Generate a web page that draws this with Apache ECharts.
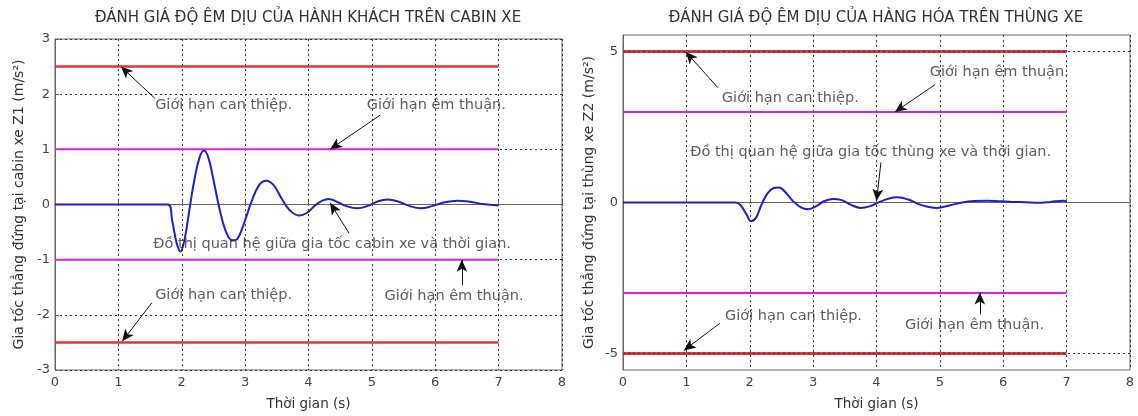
<!DOCTYPE html>
<html>
<head>
<meta charset="utf-8">
<script src="https://cdn.jsdelivr.net/npm/echarts@6/dist/echarts.min.js"></script>
<style>
  html, body { margin: 0; padding: 0; background: #fff; }
  #chart { width: 1138px; height: 416px; }
</style>
</head>
<body>
<div id="chart"></div>
<script>
// Time axis (s)
const timeTicks = [0, 1, 2, 3, 4, 5, 6, 7, 8];
const limitSpan = [0, 7];

// Passenger cabin: vertical acceleration Z1 (m/s^2) over time
const cabinCurve = [
  [0, 0], [1.78, 0], [1.85, -0.3], [1.92, -0.7], [1.98, -0.85], [2.05, -0.6],
  [2.12, -0.1], [2.2, 0.45], [2.28, 0.85], [2.35, 0.98], [2.42, 0.85], [2.5, 0.45],
  [2.6, -0.1], [2.7, -0.5], [2.8, -0.65], [2.88, -0.62], [2.98, -0.35], [3.1, 0.05],
  [3.22, 0.35], [3.33, 0.43], [3.45, 0.35], [3.58, 0.1], [3.7, -0.1], [3.85, -0.2],
  [3.98, -0.15], [4.1, -0.02], [4.22, 0.07], [4.32, 0.1], [4.45, 0.05], [4.6, -0.03],
  [4.77, -0.07], [4.95, -0.02], [5.1, 0.06], [5.25, 0.09], [5.4, 0.06], [5.6, -0.03],
  [5.77, -0.07], [5.95, -0.03], [6.15, 0.04], [6.35, 0.07], [6.55, 0.05], [6.75, 0.01],
  [7.0, -0.02]
];
const cabinTicks = [-3, -2, -1, 0, 1, 2, 3];
const cabinComfort = [1, -1];          // Giới hạn êm thuận
const cabinIntervention = [2.5, -2.5]; // Giới hạn can thiệp

// Cargo bed: vertical acceleration Z2 (m/s^2) over time
const cargoCurve = [
  [0, 0], [1.78, 0], [1.86, -0.1], [1.95, -0.4], [2.02, -0.62], [2.1, -0.5],
  [2.18, -0.1], [2.28, 0.3], [2.38, 0.48], [2.46, 0.5], [2.56, 0.35], [2.68, 0.05],
  [2.8, -0.15], [2.92, -0.22], [3.05, -0.12], [3.18, 0.05], [3.32, 0.12], [3.45, 0.08],
  [3.6, -0.08], [3.75, -0.18], [3.9, -0.12], [4.05, 0.02], [4.2, 0.13], [4.33, 0.17],
  [4.5, 0.1], [4.7, -0.08], [4.95, -0.18], [5.15, -0.1], [5.35, 0.0], [5.55, 0.05],
  [5.75, 0.06], [5.95, 0.04], [6.15, 0.02], [6.35, 0.01], [6.55, -0.01], [6.75, 0.02],
  [6.95, 0.06], [7.0, 0.05]
];
const cargoTicks = [-5, 0, 5];
const cargoComfort = [3, -3];
const cargoIntervention = [5, -5];

// Annotation texts (anchored at their left edge) and arrows [tail, head]
const cabinNotes = [
  ['Giới hạn can thiệp.', [1.58, 1.8]],
  ['Giới hạn êm thuận.', [4.92, 1.8]],
  ['Đồ thị quan hệ giữa gia tốc cabin xe và thời gian.', [1.55, -0.72]],
  ['Giới hạn êm thuận.', [5.2, -1.67]],
  ['Giới hạn can thiệp.', [1.58, -1.65]]
];
const cabinArrows = [
  [[1.58, 1.92], [1.04, 2.5]],
  [[5.13, 1.62], [4.34, 1.0]],
  [[4.64, -0.52], [4.34, 0.03]],
  [[6.42, -1.46], [6.42, -1.0]],
  [[1.53, -1.78], [1.06, -2.48]]
];
const cargoNotes = [
  ['Giới hạn can thiệp.', [1.56, 3.47]],
  ['Giới hạn êm thuận.', [4.84, 4.33]],
  ['Đồ thị quan hệ giữa gia tốc thùng xe và thời gian.', [1.06, 1.66]],
  ['Giới hạn can thiệp.', [1.61, -3.77]],
  ['Giới hạn êm thuận.', [4.45, -4.07]]
];
const cargoArrows = [
  [[1.5, 3.8], [0.99, 4.99]],
  [[4.92, 3.9], [4.29, 3.0]],
  [[4.07, 1.33], [4.0, 0.05]],
  [[1.53, -4.0], [0.96, -4.9]],
  [[5.63, -3.7], [5.63, -2.98]]
];

const FONT = '"DejaVu Sans", Verdana, sans-serif';
const GRID_LINE = { color: '#333', type: [2, 3], width: 1 };
const FRAME = '#666';
const TEXT = '#333';
const COLORS = { curve: '#1f1fcc', comfort: '#e01ee0', intervention: '#e8303c' };

function xAxisFor(gridIndex) {
  return {
    type: 'value', gridIndex, min: 0, max: 8, interval: 1,
    name: 'Thời gian (s)', nameLocation: 'middle', nameGap: 27,
    nameTextStyle: { fontFamily: FONT, fontSize: 13.5, color: TEXT },
    axisLine: { lineStyle: { color: FRAME } },
    axisTick: { inside: true, length: 4, lineStyle: { color: FRAME } },
    axisLabel: { fontFamily: FONT, fontSize: 13, color: '#444', margin: 6 },
    splitLine: { show: true, lineStyle: GRID_LINE }
  };
}

function yAxisFor(gridIndex, ticks, lo, hi, interval, name, gap) {
  const axis = {
    type: 'value', gridIndex, min: lo, max: hi,
    name, nameLocation: 'middle', nameGap: gap, nameRotate: 90,
    nameTextStyle: { fontFamily: FONT, fontSize: 14, color: TEXT },
    axisLine: { show: true, lineStyle: { color: FRAME } },
    axisTick: { show: true, inside: true, length: 4, lineStyle: { color: FRAME } },
    axisLabel: { fontFamily: FONT, fontSize: 13, color: '#444', margin: 5 },
    splitLine: { show: true, lineStyle: GRID_LINE }
  };
  if (interval) {
    axis.interval = interval;
  } else {
    axis.axisTick.customValues = ticks;
    axis.axisLabel.customValues = ticks;
  }
  return axis;
}

function hLine(idx, y, color, width, z) {
  return {
    type: 'line', xAxisIndex: idx, yAxisIndex: idx, silent: true, symbol: 'none',
    z: z, lineStyle: { color, width },
    data: limitSpan.map(t => [t, y])
  };
}

function notesSeries(idx, notes, arrows) {
  return {
    type: 'scatter', xAxisIndex: idx, yAxisIndex: idx, silent: true,
    symbolSize: 0, z: 5,
    label: {
      show: true, position: 'right', distance: 0,
      fontFamily: FONT, fontSize: 14.5, color: TEXT,
      formatter: p => p.data.name
    },
    data: notes.map(([text, at]) => ({ name: text, value: at })),
    markLine: {
      silent: true, symbol: ['none', 'arrow'], symbolSize: [8, 12],
      lineStyle: { color: '#111', width: 1, type: 'solid' },
      label: { show: false },
      data: arrows.map(([a, b]) => [{ coord: a }, { coord: b }])
    }
  };
}

function gridLineOver(idx, y) {
  // grid dashes showing through the limit line drawn on the tick value
  return {
    type: 'line', xAxisIndex: idx, yAxisIndex: idx, silent: true, symbol: 'none',
    z: 4, lineStyle: GRID_LINE, data: limitSpan.map(t => [t, y])
  };
}

const series = [];
cabinIntervention.forEach(v => series.push(hLine(0, v, COLORS.intervention, 2.5, 2)));
cabinComfort.forEach(v => series.push(hLine(0, v, COLORS.comfort, 2, 2)));
series.push({
  type: 'line', xAxisIndex: 0, yAxisIndex: 0, silent: true, symbol: 'none',
  smooth: 0.4, z: 3, lineStyle: { color: COLORS.curve, width: 2 }, data: cabinCurve
});
series.push(notesSeries(0, cabinNotes, cabinArrows));

cargoIntervention.forEach(v => {
  series.push(hLine(1, v, COLORS.intervention, 3, 2));
  series.push(gridLineOver(1, v));
});
cargoComfort.forEach(v => series.push(hLine(1, v, COLORS.comfort, 2, 2)));
series.push({
  type: 'line', xAxisIndex: 1, yAxisIndex: 1, silent: true, symbol: 'none',
  smooth: 0.4, z: 3, lineStyle: { color: COLORS.curve, width: 2 }, data: cargoCurve
});
series.push(notesSeries(1, cargoNotes, cargoArrows));

const chart = echarts.init(document.getElementById('chart'), null, { renderer: 'canvas' });
chart.setOption({
  animation: false,
  backgroundColor: '#fff',
  textStyle: { fontFamily: FONT },
  grid: [
    { left: 55, top: 39, width: 507, height: 334, show: true, borderColor: FRAME, borderWidth: 1, backgroundColor: 'transparent' },
    { left: 623, top: 35, width: 507, height: 337, show: true, borderColor: FRAME, borderWidth: 1, backgroundColor: 'transparent' }
  ],
  graphic: [
    { type: 'text', x: 308, y: 18, style: { text: 'ĐÁNH GIÁ ĐỘ ÊM DỊU CỦA HÀNH KHÁCH TRÊN CABIN XE', font: '15px ' + FONT, fill: TEXT, align: 'center', verticalAlign: 'middle' } },
    { type: 'text', x: 876, y: 18, style: { text: 'ĐÁNH GIÁ ĐỘ ÊM DỊU CỦA HÀNG HÓA TRÊN THÙNG XE', font: '15px ' + FONT, fill: TEXT, align: 'center', verticalAlign: 'middle' } }
  ],
  xAxis: [xAxisFor(0), xAxisFor(1)],
  yAxis: [
    yAxisFor(0, cabinTicks, -3, 3, 1, 'Gia tốc thẳng đứng tại cabin xe Z1 (m/s²)', 29),
    yAxisFor(1, cargoTicks, -5.55, 5.55, null, 'Gia tốc thẳng đứng tại thùng xe Z2 (m/s²)', 27)
  ],
  series
});
</script>
</body>
</html>
